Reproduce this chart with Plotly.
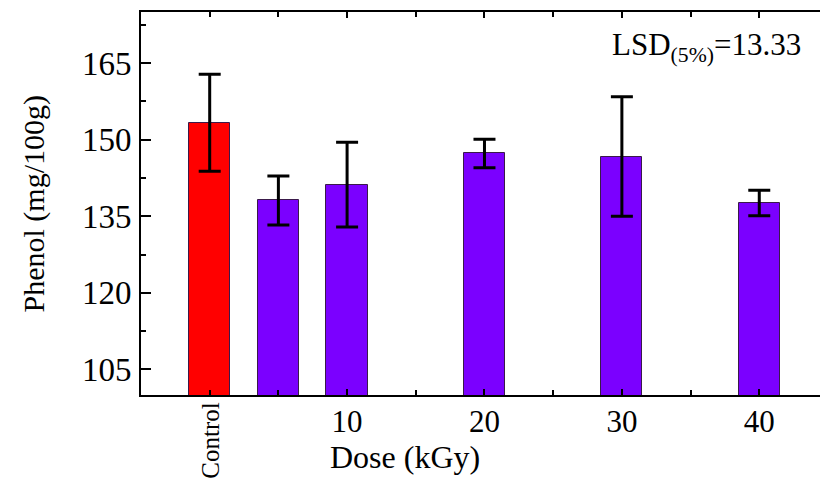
import plotly.graph_objects as go

dose = [0, 5, 10, 20, 30, 40]
phenol = [153.3, 138.1, 141.2, 147.3, 146.7, 137.6]
err = [9.5, 4.8, 8.3, 2.8, 11.7, 2.5]
colors = ["#FF0000", "#7B00FF", "#7B00FF", "#7B00FF", "#7B00FF", "#7B00FF"]
xtick_vals = [10, 20, 30, 40]
xtick_text = ["10", "20", "30", "40"]
ytick_vals = [105, 120, 135, 150, 165]

FONT = "Liberation Serif"

fig = go.Figure()
fig.add_trace(go.Bar(
    x=dose, y=phenol, width=3.0,
    marker=dict(color=colors, line=dict(color="#3a1a4a", width=1)),
    error_y=dict(type="data", array=err, visible=True, color="black", thickness=3, width=11),
))

fig.update_layout(
    width=820, height=479,
    margin=dict(l=141, r=0, t=12, b=84),
    paper_bgcolor="white", plot_bgcolor="white",
    showlegend=False,
    font=dict(family=FONT, color="black"),
    bargap=0,
)
fig.update_xaxes(
    range=[-5, 44.42],
    showline=True, linecolor="black", linewidth=2, mirror="ticks",
    tickmode="array", tickvals=xtick_vals, ticktext=xtick_text,
    ticks="inside", ticklen=6, tickwidth=2, tickcolor="black",
    minor=dict(tick0=0, dtick=5, ticks="inside", ticklen=5, tickwidth=2, tickcolor="black"),
    tickfont=dict(family=FONT, size=31),
    ticklabelstandoff=-2,
    showgrid=False, zeroline=False,
)
fig.update_yaxes(
    range=[100, 175],
    showline=True, linecolor="black", linewidth=2, mirror=False,
    tickmode="array", tickvals=ytick_vals,
    ticks="inside", ticklen=10, tickwidth=2, tickcolor="black",
    minor=dict(tick0=105, dtick=7.5, ticks="inside", ticklen=5, tickwidth=2, tickcolor="black"),
    tickfont=dict(family=FONT, size=33),
    ticklabelstandoff=1,
    showgrid=False, zeroline=False,
)

fig.add_annotation(x=0, y=0.5, xref="paper", yref="paper", text="Phenol (mg/100g)",
                   textangle=-90, showarrow=False, xanchor="center", yanchor="middle",
                   xshift=-108, font=dict(family=FONT, size=30))
fig.add_annotation(x=0, y=0, xref="x", yref="paper", text="Control", textangle=-90,
                   showarrow=False, xanchor="center", yanchor="top", yshift=-6,
                   font=dict(family=FONT, size=25))
fig.add_annotation(x=14.2, y=0, xref="x", yref="paper", text="Dose (kGy)",
                   showarrow=False, xanchor="center", yanchor="top", yshift=-42,
                   font=dict(family=FONT, size=32))
fig.add_annotation(x=0.975, y=0.965, xref="paper", yref="paper",
                   text="LSD<sub>(5%)</sub>=13.33", showarrow=False,
                   xanchor="right", yanchor="top", font=dict(family=FONT, size=31))

fig.write_html("out.html")
